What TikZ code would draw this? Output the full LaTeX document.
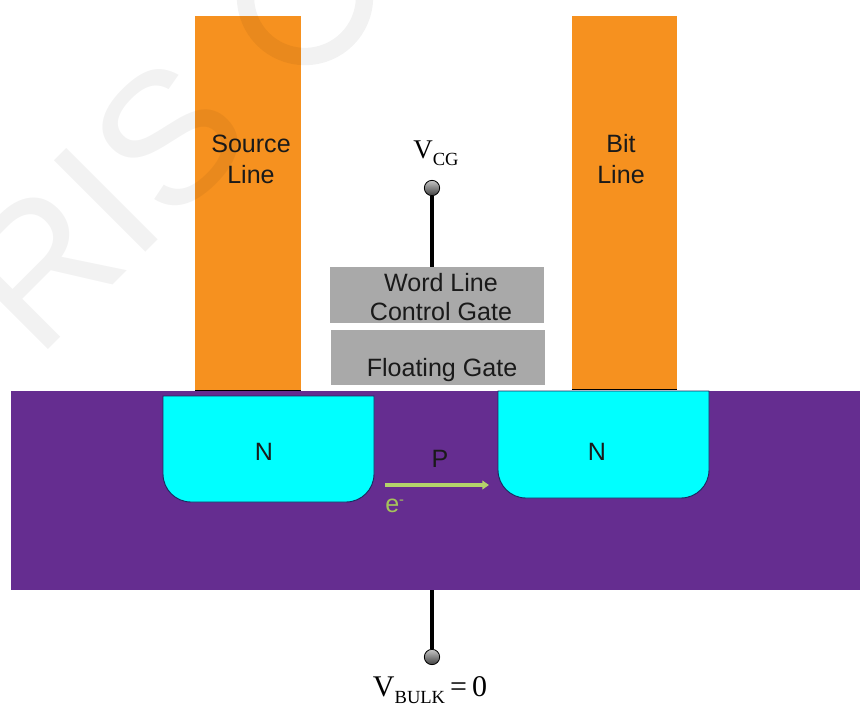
\documentclass[tikz,border=0pt]{standalone}
\usepackage{fontspec}
\setmainfont{Liberation Sans}
\newfontfamily\timesf{Liberation Serif}
\usetikzlibrary{arrows.meta}
\definecolor{orangeline}{HTML}{F6911F}
\definecolor{substrate}{HTML}{652D90}
\definecolor{gatefill}{HTML}{A9A9A9}
\definecolor{nfill}{HTML}{00FFFF}
\definecolor{nedge}{HTML}{1B2A60}
\definecolor{arrowgreen}{HTML}{B4D36A}
\definecolor{egreen}{HTML}{A5C45A}
\definecolor{labelink}{HTML}{1A1A1A}
\tikzset{
  metal/.style={fill=orangeline,draw=none,rectangle,inner sep=0pt,minimum width=79pt,minimum height=280.5pt},
  gatebox/.style={fill=gatefill,draw=none,rectangle,inner sep=0pt,minimum width=160.5pt,minimum height=41.5pt},
  bulkbox/.style={fill=substrate,draw=none,rectangle,inner sep=0pt,minimum width=636.75pt,minimum height=149.25pt},
  doping/.style={fill=nfill,draw=nedge,line width=0.7pt},
  contact/.style={line width=1pt,black},
  lab/.style={anchor=base,inner sep=0pt,text=labelink,font=\fontsize{18.8pt}{22pt}\selectfont},
  volt/.style={anchor=base,inner sep=0pt,text=black},
  terminal/.style={circle,inner sep=0pt,minimum size=11.5pt,draw=black,line width=0.6pt,top color=gray!45,bottom color=black!75},
  wire/.style={line width=2.3pt,black},
  flow/.style={line width=2.7pt,arrowgreen,-{Triangle[length=5pt,width=6.5pt]}}
}
\newcommand{\subv}[1]{\raisebox{-5.3pt}{\fontsize{13.9pt}{16pt}\selectfont #1}}
\begin{document}
\begin{tikzpicture}[x=0.75pt,y=-0.75pt]
\useasboundingbox (0,0) rectangle (860,704);
% substrate
\node[bulkbox] (bulk) at (435.5,490.5) {};
% metal lines
\node[metal] (src) at (248,203) {};
\node[metal] (bit) at (624.5,202.5) {};
\draw[contact] (src.south west) -- (src.south east);
\draw[contact] (bit.south west) -- (bit.south east);
% doped wells
\draw[doping] (163,396) -- (374,396) [rounded corners=21pt] -- (374,502) -- (163,502) [sharp corners] -- cycle;
\draw[doping] (498,391) -- (709,391) [rounded corners=21pt] -- (709,498) -- (498,498) [sharp corners] -- cycle;
% gates
\node[gatebox] (wl) at (437,295) {};
\node[gatebox] (fg) at (438,357.5) {};
% labels
\node[lab] (s1) at (251,152) {Source};
\node[lab] (s2) at (251,183) {Line};
\node[lab] (b1) at (621,152) {Bit};
\node[lab] (b2) at (621,183) {Line};
\node[lab] (w1) at (441,291) {Word Line};
\node[lab] (w2) at (441,320) {Control Gate};
\node[lab] (f1) at (442,376) {Floating Gate};
\node[lab] (n1) at (264,460) {N};
\node[lab] (n2) at (597,460) {N};
\node[lab] (p1) at (440,467) {P};
% electron
\coordinate (e0) at (385,485);
\coordinate (e1) at (489,485);
\draw[flow] (e0) -- (e1);
\node[anchor=base west,inner sep=0pt,text=egreen,font=\fontsize{18.8pt}{22pt}\selectfont] (el) at (385,512) {e\raisebox{6pt}{\fontsize{11pt}{12pt}\selectfont -}};
% terminals
\node[terminal] (tcg) at (432,188) {};
\node[terminal] (tb) at (432,657) {};
\draw[wire] (tcg.south) -- (tcg.south |- wl.north);
\draw[wire] (tb.north) -- (tb.north |- bulk.south);
\node[volt,font=\timesf\fontsize{20.25pt}{24pt}\selectfont] (vcg) at (436,158) {V\subv{CG}};
\node[volt,font=\timesf\fontsize{22.5pt}{26pt}\selectfont] (vb) at (430,696) {V\subv{BULK}\,=\,0};
% watermark
\begin{scope}
\clip (0,0) rectangle (860,704);
\node[anchor=base west,inner sep=0pt,rotate=45,text=black,text opacity=0.05,font=\fontsize{141pt}{150pt}\selectfont] (wm) at (37,361) {RIS};
\draw[black,draw opacity=0.05,line width=13pt] (305,-3) circle[radius=59.5];
\end{scope}
\end{tikzpicture}
\end{document}
